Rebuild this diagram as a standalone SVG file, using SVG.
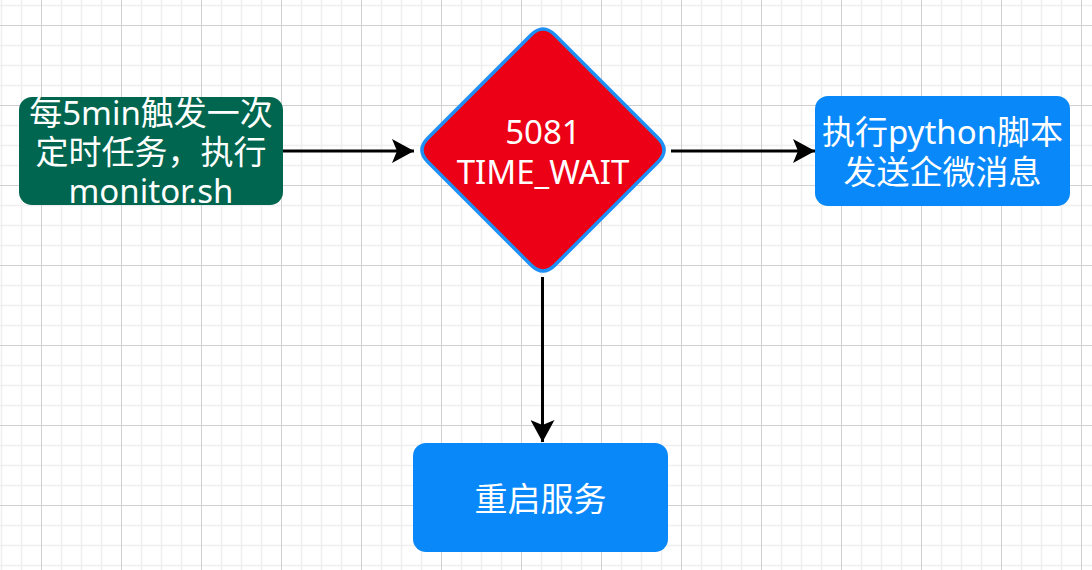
<svg xmlns="http://www.w3.org/2000/svg" width="1092" height="570" viewBox="0 0 1092 570">
<defs>
<pattern id="grid" x="41" y="25" width="80" height="80" patternUnits="userSpaceOnUse">
<path d="M20.5 0V80M40.5 0V80M60.5 0V80M0 20.5H80M0 40.5H80M0 60.5H80" stroke="#efefef" stroke-width="1.5" fill="none"/>
<path d="M0.5 0V80M0 0.5H80" stroke="#d0d0d0" stroke-width="1" fill="none"/>
</pattern>
<marker id="arrow" viewBox="0 0 22 24" refX="22" refY="12" markerWidth="22" markerHeight="24" markerUnits="userSpaceOnUse" orient="auto">
<path d="M0 0L22 12L0 24L5 12Z" fill="#000"/>
</marker>
<style>
.t{font-family:"Noto Sans","Noto Sans CJK SC",sans-serif;font-size:33px;fill:#fff;text-anchor:middle}
.c{stroke:#000;stroke-width:3;fill:none;marker-end:url(#arrow)}
</style>
</defs>
<rect width="1092" height="570" fill="#fff"/>
<rect width="1092" height="570" fill="url(#grid)"/>
<g id="connectors">
<path class="c" d="M283 151H414"/>
<path class="c" d="M671 151H815"/>
<path class="c" d="M542.5 277V442"/>
</g>
<g id="node-cron">
<rect x="19" y="97" width="264" height="108" rx="13" fill="#00664f"/>
<text class="t" x="151" y="125">每5min触发一次</text>
<text class="t" x="151" y="164">定时任务，执行</text>
<text class="t" x="151" y="203">monitor.sh</text>
</g>
<g id="node-check">
<path d="M531 35Q543 23 555 35L658 138Q670 150 658 162L555 265Q543 277 531 265L428 162Q416 150 428 138Z" fill="#ec0016" stroke="#1e8ff5" stroke-width="3.5" stroke-linejoin="round"/>
<text class="t" x="543" y="144">5081</text>
<text class="t" x="543" y="184">TIME_WAIT</text>
</g>
<g id="node-python">
<rect x="815" y="96" width="255" height="110" rx="13" fill="#0988f9"/>
<text class="t" x="942.5" y="144">执行python脚本</text>
<text class="t" x="942.5" y="184">发送企微消息</text>
</g>
<g id="node-restart">
<rect x="413" y="443" width="255" height="109" rx="13" fill="#0988f9"/>
<text class="t" x="540.5" y="511">重启服务</text>
</g>
</svg>
